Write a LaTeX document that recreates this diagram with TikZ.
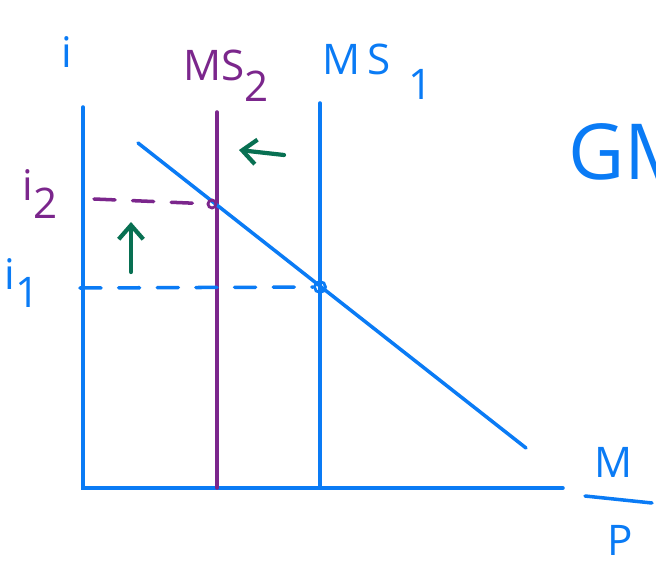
\documentclass[tikz,border=0pt]{standalone}
\usepackage{fontspec}
\setmainfont{Open Sans}
\usetikzlibrary{arrows.meta}
\definecolor{penblue}{RGB}{10,123,245}
\definecolor{penpurple}{RGB}{123,38,140}
\definecolor{pengreen}{RGB}{8,112,82}

\begin{document}
\begin{tikzpicture}[
    x=0.02cm, y=-0.02cm,
    pen/.style={line width=2pt, line cap=round},
    guide/.style={pen, dashed, dash pattern=on 12pt off 10pt},
    dot/.style={circle, draw, line width=1.6pt, inner sep=0pt, minimum size=0.22cm},
    shiftarrow/.style={draw=pengreen, line width=2.4pt, line cap=round, -{Straight Barb[length=8pt,width=14pt,line width=2.4pt]}},
    lbl/.style={font=\fontsize{24}{28}\selectfont, inner sep=0pt}
]
\useasboundingbox (0,0) rectangle (656,574);

% Axes
\coordinate (ytop) at (83,107);
\coordinate (origin) at (83,488);
\coordinate (xend) at (563,488);
\draw[pen, penblue] (ytop) -- (origin) -- (xend);

% Money supply curves
\coordinate (ms1top) at (320,103);
\coordinate (ms1bot) at (320,488);
\coordinate (ms2top) at (217,112);
\coordinate (ms2bot) at (217,488);
\draw[pen, penblue] (ms1top) -- (ms1bot);
\draw[pen, penpurple] (ms2top) -- (ms2bot);

% Money demand
\coordinate (mdtop) at (138,143);
\coordinate (mdbot) at (526,448);
\draw[pen, penblue] (mdtop) -- (mdbot);

% Equilibria
\node[dot, draw=penblue] (eq1) at (320,287) {};
\node[dot, draw=penpurple, minimum size=0.16cm] (eq2) at (212,204) {};
\coordinate (i1start) at (80,288);
\coordinate (i2start) at (94,199);
\draw[guide, penblue] (i1start) -- (eq1);
\draw[guide, penpurple] (i2start) -- (eq2);

% Shifts
\coordinate (upfrom) at (131,272);
\coordinate (upto) at (131,222);
\coordinate (leftfrom) at (284,155);
\coordinate (leftto) at (239,150);
\draw[shiftarrow] (upfrom) -- (upto);
\draw[shiftarrow] (leftfrom) -- (leftto);

% Labels
\node[lbl, text=penblue] (ilbl) at (67,52) {i};
\node[lbl, text=penpurple, anchor=west] (ms2lbl) at (183,76) {MS\raisebox{-12pt}{2}};
\node[lbl, text=penblue, anchor=west] (ms1lbl) at (322,72) {M\,S\hspace{10pt}\raisebox{-14pt}{1}};
\node[lbl, text=penpurple] (i2lbl) at (40,194) {i\raisebox{-10pt}{2}};
\node[lbl, text=penblue] (i1lbl) at (22,283) {i\raisebox{-10pt}{1}};
\node[text=penblue, anchor=west, inner sep=0pt, font=\fontsize{44}{50}\selectfont] (gmlbl) at (568,152) {GM};
\node[lbl, text=penblue] (mnum) at (614,462) {M};
\node[lbl, text=penblue] (pden) at (620,540) {P};
\coordinate (barleft) at (585,496);
\coordinate (barright) at (652,503);
\draw[pen, penblue] (barleft) -- (barright);

\end{tikzpicture}
\end{document}
